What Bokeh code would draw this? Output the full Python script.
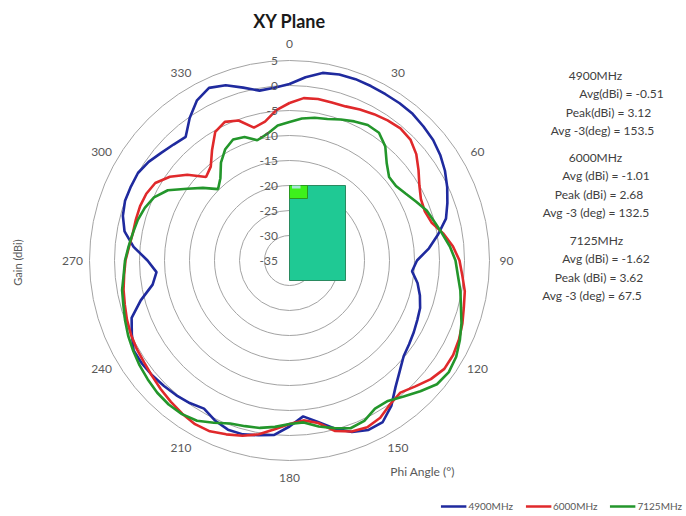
import numpy as np
from bokeh.plotting import figure
from bokeh.models import Range1d, Label, Legend, LegendItem, ColumnDataSource
from bokeh.core.properties import value
from bokeh.embed import file_html
from bokeh.resources import INLINE

# ---------------- data ----------------
angles = list(range(0, 360, 5))

gain_4900 = [0.3, 1.8, 3.1, 3.5, 3.6, 3.5, 3.4, 3.4, 3.3, 2.9, 2.5, 1.8,
             0.9, -0.2, -1.4, -2.6, -4.8, -7.0, -9.5, -10.4, -9.0, -8.0, -7.2, -6.8,
             -6.3, -5.8, -5.2, -3.8, -2.0, 0.5, 2.3, 2.4, 1.5, -0.2, -2.2, -3.7,
             -1.8, 0.0, 0.5, 1.0, 1.0, 0.3, -0.8, -0.2, 0.2, 0.5, 0.8, 1.0,
             1.0, -0.2, -1.4, -4.2, -7.2, -8.3, -6.6, -3.7, -1.5, -0.5, 0.0, 0.0,
             0.0, -0.6, -1.5, -2.2, -2.7, -0.2, 2.0, 3.1, 2.3, 0.8, -0.5, -0.3]

gain_6000 = [-3.5, -2.4, -2.2, -2.3, -2.2, -1.7, -1.2, -0.8, -0.5, -0.8, -1.9, -3.5,
             -5.0, -6.0, -6.2, -5.6, -3.8, -2.2, -1.0, -0.3, 0.6, 1.1, 1.8, 2.4,
             2.8, 2.8, 1.9, 0.6, -0.5, 0.1, 1.3, 1.8, 1.4, 0.3, -2.0, -2.9,
             -2.3, -1.1, 0.3, 1.3, 2.0, 2.7, 2.8, 2.4, 1.9, 1.4, 0.9, 0.5,
             0.3, 0.0, -0.4, -0.9, -1.3, -1.8, -2.2, -2.8, -3.2, -3.2, -3.2, -3.4,
             -4.0, -5.8, -8.3, -11.4, -10.5, -8.0, -5.3, -4.4, -5.2, -7.5, -6.8, -4.8]

gain_7125 = [-7.3, -6.5, -6.0, -5.7, -5.0, -4.3, -3.7, -3.8, -5.2, -7.5, -9.0, -9.0,
             -8.2, -7.1, -5.8, -5.0, -4.0, -2.8, -1.8, -1.2, -0.3, 0.5, 1.6, 2.6,
             3.5, 3.9, 3.5, 2.0, 0.5, -0.7, -0.8, 0.4, 0.7, -0.3, -1.3, -2.5,
             -2.3, -1.6, -1.0, -0.7, -0.3, 0.8, 2.0, 2.5, 2.6, 2.4, 2.0, 1.6,
             1.1, 0.6, 0.0, -0.6, -1.0, -1.7, -2.1, -2.7, -3.2, -3.6, -4.2, -5.1,
             -6.9, -10.0, -12.4, -14.8, -13.5, -11.1, -9.3, -8.3, -8.7, -10.1, -9.3, -7.9]

series_names = ["4900MHz", "6000MHz", "7125MHz"]
series_colors = ["#1f2a9e", "#e0292b", "#23962b"]

ring_values = [5, 0, -5, -10, -15, -20, -25, -30, -35]
angle_ticks = [0, 30, 60, 90, 120, 150, 180, 210, 240, 270, 300, 330]
r_min = -35

avg_dbi = [-0.51, -1.01, -1.62]
peak_dbi = [3.12, 2.68, 3.62]
avg3_deg = [153.5, 132.5, 67.5]

FONT = "Lato"
GREY = "#595959"

# ---------------- figure ----------------
W, H = 686, 516
SCALE = 5.0          # px per dB
CX, CY = 289, 260    # page position of polar centre


def px(X, Y):
    """page pixel -> data coordinates"""
    return (X - CX) / SCALE, (CY - Y) / SCALE


p = figure(width=W, height=H, output_backend="svg", toolbar_location=None,
           x_range=Range1d(-CX / SCALE, (W - CX) / SCALE),
           y_range=Range1d((CY - H) / SCALE, CY / SCALE),
           x_axis_type=None, y_axis_type=None, min_border=0)
p.grid.visible = False
p.outline_line_color = None
p.background_fill_color = "white"
p.border_fill_color = "white"

# rings
ring_r = [v - r_min for v in ring_values if v > r_min]
p.circle(x=[0] * len(ring_r), y=[0] * len(ring_r), radius=ring_r,
         fill_color=None, line_color="#a3a3a3", line_width=1)

# device inset (picture of board)
p.quad(left=[0], right=[11.2], bottom=[-4], top=[15],
       fill_color="#1fc994", line_color="#2a8a60", line_width=1)
p.quad(left=[0], right=[3.6], bottom=[12.4], top=[15],
       fill_color="#3ef01c", line_color="#2a9a20", line_width=1)
p.quad(left=[0.5], right=[2.2], bottom=[14.4], top=[15],
       fill_color="#a8e6d8", line_color=None)

# curves
renderers = []
for name, gains, col in zip(series_names, [gain_4900, gain_6000, gain_7125], series_colors):
    th = np.radians(np.array(angles + [angles[0]], dtype=float))
    g = np.array(gains + [gains[0]], dtype=float)
    r = g - r_min
    src = ColumnDataSource(dict(x=r * np.sin(th), y=r * np.cos(th)))
    rr = p.line("x", "y", source=src, line_color=col, line_width=2.6)
    renderers.append(rr)

# radial tick labels
for v in ring_values:
    p.add_layout(Label(x=-2.3, y=v - r_min, text=str(v), text_align="right",
                       text_baseline="middle", text_font=FONT,
                       text_font_size="12px", text_color=GREY))

# angle labels
LR = 43.4
for a in angle_ticks:
    t = np.radians(a)
    p.add_layout(Label(x=LR * np.sin(t), y=LR * np.cos(t), text=str(a),
                       text_align="center", text_baseline="middle",
                       text_font=FONT, text_font_size="12px", text_color=GREY))

# title
tx, ty = px(289, 20)
p.add_layout(Label(x=tx, y=ty, text="XY Plane", text_align="center",
                   text_baseline="middle", text_font=FONT, text_font_style="bold",
                   text_font_size="18px", text_color="#1a1a1a"))

# axis titles
gx, gy = px(17, 262)
p.add_layout(Label(x=gx, y=gy, text="Gain (dBi)", angle=np.pi / 2,
                   text_align="center", text_baseline="middle", text_font=FONT,
                   text_font_size="11px", text_color=GREY))
ax, ay = px(422, 471)
p.add_layout(Label(x=ax, y=ay, text="Phi Angle (°)", text_align="center",
                   text_baseline="middle", text_font=FONT,
                   text_font_size="12px", text_color=GREY))

# stats blocks
block_y = [75, 157, 240]
centers = [[595, 621, 608, 602], [595, 607, 600, 597], [596, 607, 600, 593]]
for i, name in enumerate(series_names):
    if i == 0:
        lines = [name, f"Avg(dBi) = {avg_dbi[i]:.2f}", f"Peak(dBi) = {peak_dbi[i]:.2f}",
                 f"Avg -3(deg) = {avg3_deg[i]:.1f}"]
    else:
        lines = [name, f"Avg (dBi) =  {avg_dbi[i]:.2f}", f"Peak (dBi) =  {peak_dbi[i]:.2f}",
                 f"Avg -3 (deg) =  {avg3_deg[i]:.1f}"]
    for j, txt in enumerate(lines):
        lx, ly = px(centers[i][j], block_y[i] + j * 18.3)
        p.add_layout(Label(x=lx, y=ly, text=txt, text_align="center",
                           text_baseline="middle", text_font=FONT,
                           text_font_size="12px", text_color="#404040"))

# legend
legend = Legend(items=[LegendItem(label=n, renderers=[r]) for n, r in zip(series_names, renderers)],
                orientation="horizontal", location="bottom_right",
                label_text_font=FONT, label_text_font_size="10px", label_text_color=GREY,
                glyph_width=26, glyph_height=8, label_standoff=2, spacing=12,
                padding=0, margin=4, border_line_color=None, background_fill_alpha=0)
p.add_layout(legend)

open("out.html", "w").write(file_html(p, INLINE))
